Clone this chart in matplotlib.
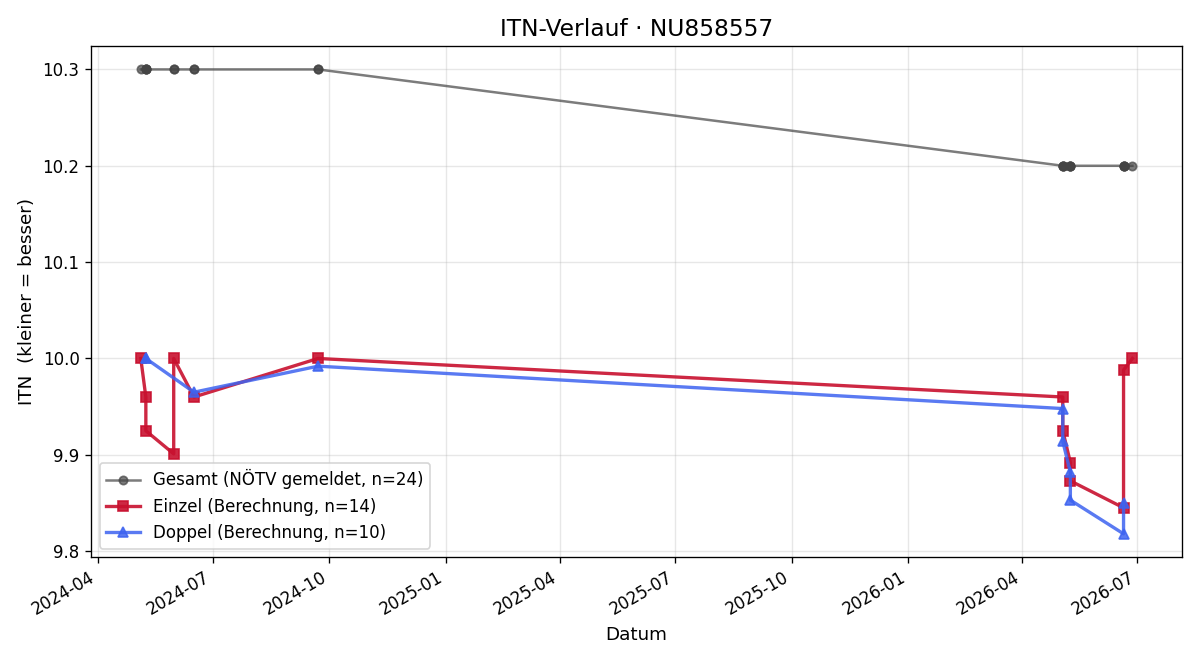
import pandas as pd
import matplotlib
matplotlib.use("Agg")
import matplotlib.pyplot as plt
import matplotlib.dates as mdates

# Einzel (single) results
einzel_dates = ["2024-05-05", "2024-05-09", "2024-05-09", "2024-05-31", "2024-05-31",
                "2024-06-16", "2024-09-22", "2026-05-03", "2026-05-03", "2026-05-09",
                "2026-05-09", "2026-06-20", "2026-06-20", "2026-06-27"]
einzel_itn = [10.0, 9.96, 9.925, 9.901, 10.0, 9.96, 10.0, 9.96, 9.925, 9.892,
              9.873, 9.845, 9.988, 10.0]

# Doppel (doubles) results
doppel_dates = ["2024-05-09", "2024-05-09", "2024-06-16", "2024-09-22", "2026-05-03",
                "2026-05-03", "2026-05-09", "2026-05-09", "2026-06-20", "2026-06-20"]
doppel_itn = [10.0, 10.0, 9.965, 9.992, 9.948, 9.914, 9.882, 9.853, 9.818, 9.85]

# Gesamt (reported by NÖTV)
gesamt_dates = sorted(einzel_dates + doppel_dates)
gesamt_itn = [10.3 if d < "2025-01-01" else 10.2 for d in gesamt_dates]

gesamt_dates = pd.to_datetime(gesamt_dates)
einzel_dates = pd.to_datetime(einzel_dates)
doppel_dates = pd.to_datetime(doppel_dates)

fig, ax = plt.subplots(figsize=(10, 5.5), dpi=120)

ax.plot(gesamt_dates, gesamt_itn, color="#444444", marker="o", markersize=5,
        linewidth=1.5, alpha=0.7, label="Gesamt (NÖTV gemeldet, n=%d)" % len(gesamt_itn))
ax.plot(einzel_dates, einzel_itn, color="#c8102e", marker="s", markersize=6,
        linewidth=2, alpha=0.9, label="Einzel (Berechnung, n=%d)" % len(einzel_itn))
ax.plot(doppel_dates, doppel_itn, color="#3d63f0", marker="^", markersize=6,
        linewidth=2, alpha=0.85, label="Doppel (Berechnung, n=%d)" % len(doppel_itn))

ax.set_title("ITN-Verlauf · NU858557", fontsize=14)
ax.set_xlabel("Datum", fontsize=11)
ax.set_ylabel("ITN  (kleiner = besser)", fontsize=11)
ax.grid(True, alpha=0.3)
ax.xaxis.set_major_locator(mdates.MonthLocator(bymonth=[1, 4, 7, 10]))
ax.xaxis.set_major_formatter(mdates.DateFormatter("%Y-%m"))
ax.legend(loc="lower left", fontsize=10)
fig.autofmt_xdate()
fig.subplots_adjust(left=0.076, right=0.985, top=0.930, bottom=0.156)
fig.savefig("out.png")
